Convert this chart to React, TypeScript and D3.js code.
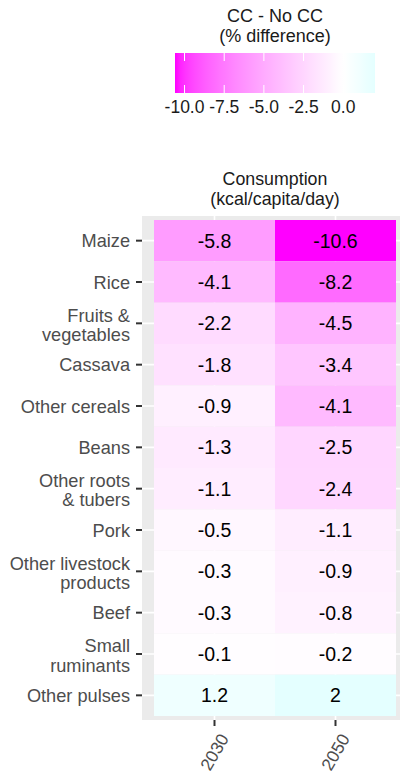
import { useEffect, useRef } from "react";
import * as d3 from "d3";

// Food groups, top to bottom (two-line labels split with "\n")
const FOODS = [
  "Maize",
  "Rice",
  "Fruits &\nvegetables",
  "Cassava",
  "Other cereals",
  "Beans",
  "Other roots\n& tubers",
  "Pork",
  "Other livestock\nproducts",
  "Beef",
  "Small\nruminants",
  "Other pulses",
];
const YEARS = ["2030", "2050"];
const VALUES_2030 = [-5.8, -4.1, -2.2, -1.8, -0.9, -1.3, -1.1, -0.5, -0.3, -0.3, -0.1, 1.2];
const VALUES_2050 = [-10.6, -8.2, -4.5, -3.4, -4.1, -2.5, -2.4, -1.1, -0.9, -0.8, -0.2, 2];
const LEGEND_TICKS = [-10, -7.5, -5, -2.5, 0];

const FONT = "'Liberation Sans', Arial, sans-serif";
const AXIS_TEXT = "#4D4D4D";
const PANEL_BG = "#EBEBEB";

export default function App() {
  const ref = useRef<SVGSVGElement | null>(null);

  useEffect(() => {
    const el = ref.current;
    if (!el) return;
    const svg = d3.select(el);
    svg.selectAll("*").remove();

    const W = 400;
    const H = 776;
    svg.attr("width", W).attr("height", H).attr("viewBox", `0 0 ${W} ${H}`);

    const cells = FOODS.flatMap((f, i) => [
      { food: f, year: YEARS[0], value: VALUES_2030[i] },
      { food: f, year: YEARS[1], value: VALUES_2050[i] },
    ]);
    const allVals = cells.map((d) => d.value);
    const maxAbs = d3.max(allVals, (v) => Math.abs(v)) as number;
    const [vMin, vMax] = d3.extent(allVals) as [number, number];

    // gradient2-like: magenta - white - cyan, symmetric around 0
    const negC = d3.interpolateLab("#FFFFFF", "#FF00FF");
    const posC = d3.interpolateLab("#FFFFFF", "#00FFFF");
    const fill = (v: number) => (v < 0 ? negC(-v / maxAbs) : posC(v / maxAbs));
    // R-style labels: plain hyphen, not unicode minus
    const fmt = (v: number) => d3.format(".1f")(v).replace("\u2212", "-");

    // ---- legend ----
    const legendX = d3.scaleLinear().domain([vMin, vMax]).range([175, 375]);
    const lg = svg.append("g").attr("font-family", FONT);

    lg.append("text")
      .attr("x", 275)
      .attr("y", 21.5)
      .attr("text-anchor", "middle")
      .attr("font-size", 18)
      .attr("fill", "#1A1A1A")
      .text("CC - No CC");
    lg.append("text")
      .attr("x", 275)
      .attr("y", 42)
      .attr("text-anchor", "middle")
      .attr("font-size", 18)
      .attr("fill", "#1A1A1A")
      .text("(% difference)");

    const defs = svg.append("defs");
    const grad = defs
      .append("linearGradient")
      .attr("id", "cc-grad")
      .attr("x1", "0%")
      .attr("x2", "100%");
    const nStops = 40;
    for (let i = 0; i <= nStops; i++) {
      const t = i / nStops;
      grad
        .append("stop")
        .attr("offset", `${t * 100}%`)
        .attr("stop-color", fill(vMin + (vMax - vMin) * t));
    }
    const barY = 53;
    const barH = 40;
    lg.append("rect")
      .attr("x", legendX(vMin))
      .attr("y", barY)
      .attr("width", legendX(vMax) - legendX(vMin))
      .attr("height", barH)
      .attr("fill", "url(#cc-grad)");

    LEGEND_TICKS.forEach((t) => {
      const x = legendX(t);
      lg.append("line")
        .attr("x1", x).attr("x2", x)
        .attr("y1", barY).attr("y2", barY + 8)
        .attr("stroke", "#FFFFFF").attr("stroke-width", 1);
      lg.append("line")
        .attr("x1", x).attr("x2", x)
        .attr("y1", barY + barH - 8).attr("y2", barY + barH)
        .attr("stroke", "#FFFFFF").attr("stroke-width", 1);
      lg.append("text")
        .attr("x", x)
        .attr("y", 113)
        .attr("text-anchor", "middle")
        .attr("font-size", 17.5)
        .attr("fill", "#1A1A1A")
        .text(fmt(t));
    });

    // ---- heatmap panel ----
    const x = d3.scaleBand<string>().domain(YEARS).range([154, 396]);
    const y = d3.scaleBand<string>().domain(FOODS).range([220, 716]);
    const panel = { x0: 142, x1: 408, y0: 216, y1: 720 };

    const g = svg.append("g").attr("font-family", FONT);

    g.append("text")
      .attr("x", 275)
      .attr("y", 185)
      .attr("text-anchor", "middle")
      .attr("font-size", 17.8)
      .attr("fill", "#1A1A1A")
      .text("Consumption");
    g.append("text")
      .attr("x", 275)
      .attr("y", 204.5)
      .attr("text-anchor", "middle")
      .attr("font-size", 17.8)
      .attr("fill", "#1A1A1A")
      .text("(kcal/capita/day)");

    g.append("rect")
      .attr("x", panel.x0)
      .attr("y", panel.y0)
      .attr("width", panel.x1 - panel.x0)
      .attr("height", panel.y1 - panel.y0)
      .attr("fill", PANEL_BG);

    // grid lines
    YEARS.forEach((yr) => {
      const cx = (x(yr) as number) + x.bandwidth() / 2;
      g.append("line")
        .attr("x1", cx).attr("x2", cx)
        .attr("y1", panel.y0).attr("y2", panel.y1)
        .attr("stroke", "#FFFFFF").attr("stroke-width", 1.6);
    });
    FOODS.forEach((f) => {
      const cy = (y(f) as number) + y.bandwidth() / 2;
      g.append("line")
        .attr("x1", panel.x0).attr("x2", panel.x1)
        .attr("y1", cy).attr("y2", cy)
        .attr("stroke", "#FFFFFF").attr("stroke-width", 1.6);
    });

    g.selectAll("rect.tile")
      .data(cells)
      .join("rect")
      .attr("class", "tile")
      .attr("x", (d) => x(d.year) as number)
      .attr("y", (d) => y(d.food) as number)
      .attr("width", x.bandwidth())
      .attr("height", y.bandwidth())
      .attr("fill", (d) => fill(d.value));

    g.selectAll("text.cell")
      .data(cells)
      .join("text")
      .attr("class", "cell")
      .attr("x", (d) => (x(d.year) as number) + x.bandwidth() / 2)
      .attr("y", (d) => (y(d.food) as number) + y.bandwidth() / 2)
      .attr("dy", "0.36em")
      .attr("text-anchor", "middle")
      .attr("font-size", 19.5)
      .attr("fill", "#000000")
      .text((d) => String(d.value));

    // y axis
    FOODS.forEach((f) => {
      const cy = (y(f) as number) + y.bandwidth() / 2;
      g.append("line")
        .attr("x1", panel.x0 - 6).attr("x2", panel.x0)
        .attr("y1", cy).attr("y2", cy)
        .attr("stroke", "#333333").attr("stroke-width", 2);
      const lines = f.split("\n");
      const lh = 19.5;
      lines.forEach((ln, i) => {
        g.append("text")
          .attr("x", 130)
          .attr("y", cy + (i - (lines.length - 1) / 2) * lh + (lines.length > 1 ? 1.5 : 0))
          .attr("dy", "0.36em")
          .attr("text-anchor", "end")
          .attr("font-size", 18.2)
          .attr("fill", AXIS_TEXT)
          .text(ln);
      });
    });

    // x axis
    YEARS.forEach((yr) => {
      const cx = (x(yr) as number) + x.bandwidth() / 2;
      g.append("line")
        .attr("x1", cx).attr("x2", cx)
        .attr("y1", panel.y1).attr("y2", panel.y1 + 6)
        .attr("stroke", "#333333").attr("stroke-width", 2);
      g.append("text")
        .attr("transform", `translate(${cx + 4},${panel.y1 + 12}) rotate(-60)`)
        .attr("dy", "0.72em")
        .attr("text-anchor", "end")
        .attr("font-size", 17.4)
        .attr("fill", AXIS_TEXT)
        .text(yr);
    });
  }, []);

  return (
    <div style={{ position: "absolute", left: 0, top: 0, background: "#fff" }}>
      <svg ref={ref} style={{ display: "block" }} />
    </div>
  );
}
